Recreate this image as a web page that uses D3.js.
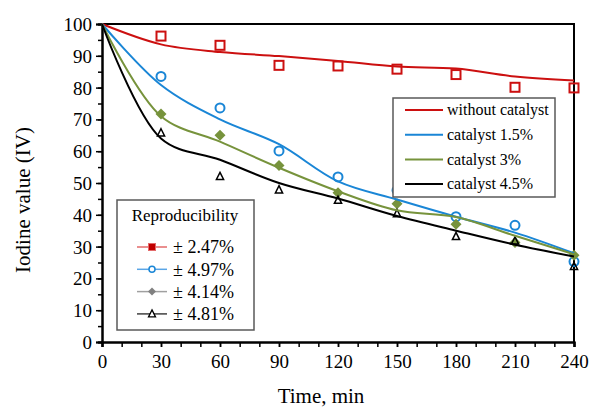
<!DOCTYPE html>
<html>
<head>
<meta charset="utf-8">
<script src="https://cdn.jsdelivr.net/npm/d3@7"></script>
<style>
  body { margin: 0; background: #fff; }
</style>
</head>
<body>
<div id="chart"></div>
<script>
var w = 591,
    h = 408,
    m = [24, 16, 63, 102]; // top right bottom left

var font = "Liberation Serif";

// sampling times (min)
var times = [0, 30, 60, 90, 120, 150, 180, 210, 240];
var ptTimes = [30, 60, 90, 120, 150, 180, 210, 240];

// measured points
var redPts   = [96.2, 93.3, 87.0, 86.8, 85.8, 84.1, 80.1, 79.9];
var bluePts  = [83.5, 73.6, 60.1, 51.9, 47.7, 39.4, 36.7, 25.3];
var greenPts = [71.7, 65.0, 55.5, 46.9, 43.5, 37.0, 31.3, 27.3];
var blackPts = [65.8, 52.1, 47.9, 44.6, 40.4, 33.2, 31.8, 23.8];

// smoothed curves
var redFit   = [100, 93.6, 91.2, 89.9, 88.4, 86.6, 86.0, 83.5, 82.2];
var blueFit  = [100, 80.8, 70.0, 62.2, 50.5, 44.8, 39.4, 34.4, 27.9];
var greenFit = [100, 71.0, 63.0, 54.8, 47.4, 41.4, 39.3, 33.4, 27.6];
var blackFit = [100, 64.0, 57.3, 50.0, 45.1, 39.6, 35.0, 30.6, 26.9];

var seriesNames = ["without catalyst", "catalyst 1.5%", "catalyst 3%", "catalyst 4.5%"];
var reproLabels = ["\u00b1 2.47%", "\u00b1 4.97%", "\u00b1 4.14%", "\u00b1 4.81%"];
var xTicks = [0, 30, 60, 90, 120, 150, 180, 210, 240];
var yTicks = [0, 10, 20, 30, 40, 50, 60, 70, 80, 90, 100];

var colors = ["#cc1010", "#1a86d6", "#77933c", "#000000"];
var reproColors = ["#e36a6a", "#5aa5e6", "#a0a0a0", "#404040"];
var shapes = ["square", "circle", "diamond", "triangle"];

var pw = w - m[1] - m[3],
    ph = h - m[0] - m[2];

var x = d3.scaleLinear().domain([0, 240]).range([0, pw - 1]);
var y = d3.scaleLinear().domain([0, 100]).range([ph - 3, 0]);

var svg = d3.select("#chart").append("svg")
    .attr("width", w)
    .attr("height", h);

var g = svg.append("g")
    .attr("transform", "translate(" + m[3] + "," + m[0] + ")");

// frame (top and right)
g.append("path")
    .attr("d", "M0," + y(100) + "H" + x(240) + "V" + y(0))
    .attr("fill", "none")
    .attr("stroke", "#000")
    .attr("stroke-width", 2);

// axes
var xAxisMinor = d3.axisBottom(x).tickValues(d3.range(0, 241, 10)).tickSize(5).tickFormat("");
var xAxis = d3.axisBottom(x).tickValues(xTicks).tickSize(5).tickPadding(8);
var yAxisMinor = d3.axisLeft(y).tickValues(d3.range(0, 101, 5)).tickSize(4).tickFormat("");
var yAxis = d3.axisLeft(y).tickValues(yTicks).tickSize(6).tickPadding(4);

function styleAxis(sel) {
  sel.attr("font-family", font).attr("font-size", 19);
  sel.select(".domain").attr("stroke", "#000").attr("stroke-width", 2);
  sel.selectAll(".tick line").attr("stroke", "#000").attr("stroke-width", 1.5);
  sel.selectAll(".tick text").attr("fill", "#000");
}

g.append("g").attr("transform", "translate(0," + y(0) + ")").call(xAxisMinor).call(styleAxis);
g.append("g").attr("transform", "translate(0," + y(0) + ")").call(xAxis).call(styleAxis);
g.append("g").call(yAxisMinor).call(styleAxis);
g.append("g").call(yAxis).call(styleAxis)
  .selectAll(".tick text").attr("dy", "0.34em");

// axis titles
svg.append("text")
    .attr("x", 321)
    .attr("y", 403)
    .attr("text-anchor", "middle")
    .attr("font-family", font)
    .attr("font-size", 21)
    .text("Time, min");

svg.append("text")
    .attr("transform", "translate(30,200) rotate(-90)")
    .attr("text-anchor", "middle")
    .attr("font-family", font)
    .attr("font-size", 21)
    .text("Iodine value (IV)");

// curves
var fits = [redFit, blueFit, greenFit, blackFit];
var pts = [redPts, bluePts, greenPts, blackPts];

var line = d3.line()
    .x(function(d, i) { return x(times[i]); })
    .y(function(d) { return y(d); })
    .curve(d3.curveCatmullRom.alpha(0.5));

// markers
function marker(sel, shape, color, size) {
  if (shape == "square") {
    sel.append("rect").attr("x", -size / 2).attr("y", -size / 2)
      .attr("width", size).attr("height", size)
      .attr("fill", "none").attr("stroke", color).attr("stroke-width", 2);
  } else if (shape == "circle") {
    sel.append("circle").attr("r", size / 2)
      .attr("fill", "none").attr("stroke", color).attr("stroke-width", 2);
  } else if (shape == "diamond") {
    var s = size / 2 + 1;
    sel.append("path").attr("d", "M0," + (-s) + "L" + s + ",0L0," + s + "L" + (-s) + ",0Z")
      .attr("fill", color).attr("stroke", "none");
  } else {
    var t = size / 2;
    sel.append("path").attr("d", "M0," + (-t) + "L" + (t * 0.9) + "," + (t * 0.8) + "L" + (-t * 0.9) + "," + (t * 0.8) + "Z")
      .attr("fill", "none").attr("stroke", color).attr("stroke-width", 1.5);
  }
}

pts.forEach(function(p, k) {
  g.selectAll(".pt" + k)
      .data(p)
    .enter().append("g")
      .attr("class", "pt" + k)
      .attr("transform", function(d, i) { return "translate(" + x(ptTimes[i]) + "," + y(d) + ")"; })
      .each(function() { marker(d3.select(this), shapes[k], colors[k], k == 3 ? 8 : 9); });
});

fits.forEach(function(f, k) {
  g.append("path")
      .datum(f)
      .attr("fill", "none")
      .attr("stroke", colors[k])
      .attr("stroke-width", 2)
      .attr("d", line);
});

// legend: series
var leg = svg.append("g").attr("transform", "translate(393,98)");
leg.append("rect")
    .attr("width", 162).attr("height", 99)
    .attr("fill", "#fff").attr("stroke", "#595959").attr("stroke-width", 1.5);

var li = leg.selectAll(".li")
    .data(seriesNames)
  .enter().append("g")
    .attr("transform", function(d, i) { return "translate(0," + (12 + i * 24.7) + ")"; });

li.append("line")
    .attr("x1", 12).attr("x2", 50)
    .attr("stroke", function(d, i) { return colors[i]; })
    .attr("stroke-width", 2);

li.append("text")
    .attr("x", 54).attr("dy", "0.32em")
    .attr("font-family", font)
    .attr("font-size", 16)
    .text(function(d) { return d; });

// legend: reproducibility
var leg2 = svg.append("g").attr("transform", "translate(117,200)");
leg2.append("rect")
    .attr("width", 137).attr("height", 130)
    .attr("fill", "#fff").attr("stroke", "#595959").attr("stroke-width", 1.5);

leg2.append("text")
    .attr("x", 68).attr("y", 21)
    .attr("text-anchor", "middle")
    .attr("font-family", font)
    .attr("font-size", 17)
    .text("Reproducibility");

var ri = leg2.selectAll(".ri")
    .data(reproLabels)
  .enter().append("g")
    .attr("transform", function(d, i) { return "translate(0," + (47 + i * 22.3) + ")"; });

ri.append("line")
    .attr("x1", 20).attr("x2", 50)
    .attr("stroke", function(d, i) { return reproColors[i]; })
    .attr("stroke-width", 1.5);

ri.append("g")
    .attr("transform", "translate(35,0)")
    .each(function(d, i) {
      var s = d3.select(this);
      if (i == 0) {
        s.append("rect").attr("x", -3.5).attr("y", -3.5).attr("width", 7).attr("height", 7)
          .attr("fill", "#c00000").attr("stroke", "#e36a6a").attr("stroke-width", 1);
      } else if (i == 1) {
        s.append("circle").attr("r", 3).attr("fill", "#fff")
          .attr("stroke", "#1a86d6").attr("stroke-width", 1.5);
      } else if (i == 2) {
        s.append("path").attr("d", "M0,-4L4,0L0,4L-4,0Z").attr("fill", "#808080");
      } else {
        s.append("path").attr("d", "M0,-4L3.5,3L-3.5,3Z").attr("fill", "#fff")
          .attr("stroke", "#000").attr("stroke-width", 1.3);
      }
    });

ri.append("text")
    .attr("x", 56).attr("dy", "0.35em")
    .attr("font-family", font)
    .attr("font-size", 18)
    .text(function(d) { return d; });
</script>
</body>
</html>
